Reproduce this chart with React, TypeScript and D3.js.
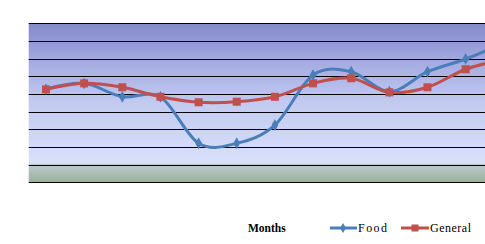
import React from "react";
import * as d3 from "d3";

const months = ["Jan", "Feb", "Mar", "Apr", "May", "Jun", "Jul", "Aug", "Sep", "Oct", "Nov", "Dec", "Jan2"];
const food = [5.28, 5.6, 4.84, 4.83, 2.21, 2.21, 3.24, 6.07, 6.26, 5.13, 6.26, 6.98, 7.9];
const general = [5.26, 5.6, 5.38, 4.84, 4.53, 4.56, 4.84, 5.6, 5.89, 5.09, 5.38, 6.4, 6.95];
const gridValues = [0, 1, 2, 3, 4, 5, 6, 7, 8, 9];

const W = 485;
const H = 244;
const plotLeft = 28.7;
const plotTop = 23.3;
const plotBottom = 182.3;
const step = 38.15;

export default function App() {
  const x = d3
    .scaleBand<string>()
    .domain(months)
    .range([46 - step / 2, 46 - step / 2 + step * months.length])
    .padding(0);
  const cx = (m: string) => (x(m) as number) + x.bandwidth() / 2;
  const y = d3.scaleLinear().domain([0, 9]).range([plotBottom, plotTop]);

  const line = d3
    .line<number>()
    .x((_, i) => cx(months[i]))
    .y((d) => y(d))
    .curve(d3.curveCardinal.tension(0));

  const blue = "#4a7ebb";
  const red = "#c0504d";
  const shown = months.slice(0, 12);

  return (
    <svg
      width={W}
      height={H}
      style={{ position: "absolute", left: 0, top: 0, background: "#fff" }}
    >
      <defs>
        <linearGradient id="bg" x1="0" y1="0" x2="0" y2="1">
          <stop offset="0" stopColor="#8489c9" />
          <stop offset="0.25" stopColor="#a5ace1" />
          <stop offset="0.5" stopColor="#c2caf0" />
          <stop offset="0.88" stopColor="#d9e1fa" />
          <stop offset="0.888" stopColor="#bccbd0" />
          <stop offset="1" stopColor="#9ab098" />
        </linearGradient>
        <clipPath id="plotclip">
          <rect x={plotLeft} y={plotTop - 5} width={W - plotLeft} height={plotBottom - plotTop + 10} />
        </clipPath>
      </defs>
      <rect
        x={plotLeft}
        y={y(9)}
        width={W - plotLeft}
        height={y(0) - y(9)}
        fill="url(#bg)"
      />
      {gridValues.map((v) => (
        <line
          key={v}
          x1={plotLeft}
          x2={W}
          y1={Math.round(y(v)) + 0.5}
          y2={Math.round(y(v)) + 0.5}
          stroke="#000"
          strokeWidth={1}
        />
      ))}
      <g clipPath="url(#plotclip)">
        <path d={line(food) || ""} fill="none" stroke={blue} strokeWidth={3} />
        {food.slice(0, 12).map((v, i) => (
          <path
            key={"f" + i}
            d={d3.symbol(d3.symbolDiamond, 40)() || ""}
            transform={`translate(${cx(shown[i])},${y(v)})`}
            fill={blue}
          />
        ))}
        <path d={line(general) || ""} fill="none" stroke={red} strokeWidth={3} />
        {general.slice(0, 12).map((v, i) => (
          <rect
            key={"g" + i}
            x={cx(shown[i]) - 4}
            y={y(v) - 4}
            width={8}
            height={8}
            fill={red}
          />
        ))}
      </g>
      <text
        x={248}
        y={232}
        fontFamily="Liberation Serif, Times New Roman, serif"
        fontWeight="bold"
        fontSize={11.5}
        fill="#000"
      >
        Months
      </text>
      <line x1={330} x2={357} y1={228} y2={228} stroke={blue} strokeWidth={3} />
      <path
        d={d3.symbol(d3.symbolDiamond, 30)() || ""}
        transform="translate(343,228)"
        fill={blue}
      />
      <text
        x={358}
        y={232}
        fontFamily="Liberation Serif, Times New Roman, serif"
        fontSize={12}
        textLength={29}
        fill="#000"
      >
        Food
      </text>
      <line x1={401} x2={429} y1={228} y2={228} stroke={red} strokeWidth={3} />
      <rect x={411.5} y={224.5} width={7} height={7} fill={red} />
      <text
        x={430}
        y={232}
        fontFamily="Liberation Serif, Times New Roman, serif"
        fontSize={12}
        textLength={41}
        fill="#000"
      >
        General
      </text>
    </svg>
  );
}
